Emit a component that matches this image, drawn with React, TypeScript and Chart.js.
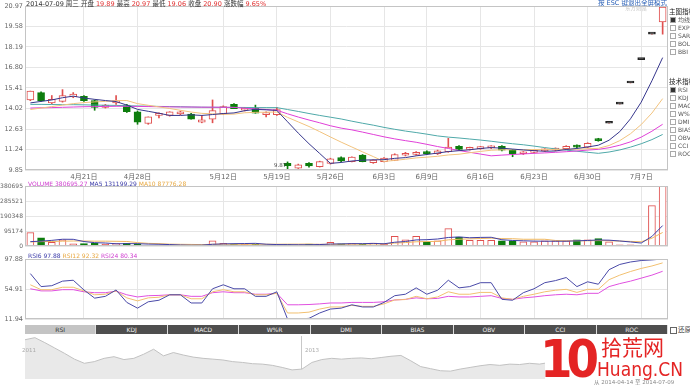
import React, { useEffect, useRef } from "react";
import { Chart, registerables } from "chart.js";
Chart.register(...registerables);

const dates = ["4月14日","4月15日","4月16日","4月17日","4月18日","4月21日","4月22日","4月23日","4月24日","4月25日","4月28日","4月29日","4月30日","5月5日","5月6日","5月7日","5月8日","5月9日","5月12日","5月13日","5月14日","5月15日","5月16日","5月19日","5月20日","5月21日","5月22日","5月23日","5月26日","5月27日","5月28日","5月29日","5月30日","6月3日","6月4日","6月5日","6月6日","6月9日","6月10日","6月11日","6月12日","6月13日","6月16日","6月17日","6月18日","6月19日","6月20日","6月23日","6月24日","6月25日","6月26日","6月27日","6月30日","7月1日","7月2日","7月3日","7月4日","7月7日","7月8日","7月9日"];
const axisLabels = ["4月21日","4月28日","5月12日","5月19日","5月26日","6月3日","6月9日","6月16日","6月23日","6月30日","7月7日"];

const opens = [14.6,15.1,14.4,14.5,14.8,14.85,14.55,14.1,14.4,14.25,13.8,13.0,13.55,13.55,13.65,13.65,13.1,13.3,13.65,14.3,13.9,14.05,13.6,13.6,10.3,9.98,10.3,10.07,10.3,10.7,10.42,10.87,10.35,10.42,10.5,10.85,10.9,11.1,10.95,11.1,11.45,11.25,11.3,11.35,11.45,11.2,10.95,11.05,11.15,11.2,11.3,11.5,11.4,11.95,13.02,14.32,15.75,17.33,19.06,19.89];
const highs = [15.2,15.15,14.9,15.3,15.1,14.9,14.6,14.3,14.9,14.3,13.85,13.45,13.72,13.8,13.85,13.7,13.55,14.6,14.2,14.35,14.1,14.25,13.8,14.1,10.4,10.25,10.35,10.45,10.65,10.75,10.75,10.9,10.55,10.7,10.95,11.05,11.1,11.15,11.2,12.0,11.5,11.4,11.45,11.5,11.5,11.25,11.1,11.2,11.3,11.35,11.5,11.55,11.7,12.0,13.02,14.32,15.75,17.33,19.06,20.97];
const lows = [14.55,14.5,14.35,14.45,14.75,14.5,13.9,14.05,14.3,13.75,12.95,12.95,13.38,13.5,13.6,13.3,13.05,13.05,13.6,14.0,13.85,13.7,13.45,13.55,9.87,9.95,10.05,10.05,10.25,10.4,10.4,10.4,10.3,10.4,10.48,10.8,10.85,10.9,10.9,11.05,11.2,11.2,11.25,11.3,11.15,10.75,10.9,11.0,11.1,11.15,11.25,11.35,11.35,11.8,13.02,14.32,15.75,17.33,19.06,19.06];
const closes = [15.2,14.55,14.65,14.9,15.0,14.55,14.1,14.25,14.55,13.8,13.1,13.45,13.62,13.8,13.8,13.3,13.25,13.88,14.15,14.0,14.05,13.7,13.75,13.95,10.15,10.2,10.12,10.42,10.6,10.46,10.72,10.42,10.52,10.65,10.9,10.95,11.05,10.95,11.15,11.4,11.25,11.35,11.4,11.45,11.2,10.95,11.05,11.15,11.25,11.3,11.45,11.4,11.65,11.84,13.02,14.32,15.75,17.33,19.06,20.9];

const ma5 = [14.4,14.5,14.6,14.75,14.86,14.73,14.64,14.56,14.49,14.25,13.96,13.83,13.7,13.55,13.55,13.59,13.55,13.61,13.68,13.72,13.87,13.96,13.93,13.89,13.12,12.35,11.63,10.97,10.3,10.36,10.46,10.52,10.54,10.55,10.64,10.69,10.81,10.9,11.0,11.1,11.16,11.22,11.31,11.37,11.33,11.27,11.21,11.16,11.12,11.14,11.24,11.31,11.41,11.53,11.87,12.45,13.32,14.45,15.9,17.47];
const ma10 = [13.95,14.05,14.15,14.25,14.35,14.42,14.47,14.5,14.55,14.56,14.35,14.24,14.13,14.02,13.9,13.78,13.69,13.66,13.62,13.64,13.73,13.76,13.77,13.78,13.42,13.11,12.8,12.45,12.09,11.74,11.41,11.08,10.76,10.43,10.5,10.58,10.67,10.72,10.78,10.87,10.92,11.02,11.11,11.19,11.22,11.22,11.22,11.24,11.25,11.24,11.26,11.26,11.29,11.32,11.51,11.84,12.31,12.93,13.71,14.69];
const ma20 = [14.05,14.07,14.08,14.1,14.12,14.14,14.15,14.16,14.17,14.17,14.16,14.15,14.14,14.13,14.12,14.12,14.11,14.11,14.1,14.1,14.04,14.0,13.95,13.9,13.66,13.44,13.24,13.05,12.85,12.69,12.57,12.42,12.26,12.1,11.96,11.84,11.73,11.59,11.44,11.31,11.17,11.05,10.93,10.81,10.86,10.9,10.94,10.98,11.01,11.05,11.09,11.14,11.2,11.25,11.36,11.53,11.76,12.08,12.48,12.95];
const ma30 = [14.3,14.3,14.29,14.28,14.28,14.27,14.25,14.24,14.23,14.21,14.19,14.18,14.16,14.15,14.14,14.12,14.11,14.1,14.1,14.09,14.09,14.08,14.08,14.08,13.95,13.82,13.68,13.55,13.43,13.31,13.16,13.02,12.89,12.74,12.61,12.49,12.39,12.28,12.16,12.08,12.02,11.95,11.88,11.8,11.71,11.63,11.56,11.47,11.37,11.28,11.2,11.12,11.05,10.98,11.07,11.21,11.4,11.63,11.91,12.26];
const priceTicks = [9.85,11.24,12.63,14.02,15.41,16.8,18.19,19.58,20.97];

const vols = [87000,54000,25000,41000,16000,17000,19000,14000,17000,20000,16000,6000,8000,8000,7000,9000,8000,35000,20000,14000,13000,14000,8000,9000,11000,10000,14000,14000,25000,16000,18000,14000,21000,14000,64000,41000,64000,29000,35000,112000,58000,39000,39000,39000,35000,35000,29000,29000,35000,35000,35000,41000,41000,50000,29000,10000,10000,7000,257000,380695.27];
const volMa5 = [30000,33000,38000,45000,44600,30600,23600,21400,16600,17400,17200,14600,13400,11600,9000,7600,8000,13400,15800,17200,18000,19200,13800,11600,11000,10400,10400,11600,14800,15800,17400,17400,18800,16600,26200,30800,40800,42400,46600,56200,59600,54600,56600,57400,42000,37400,35400,33400,32600,32600,32600,35000,37400,40400,39200,34200,28000,21200,62600,131199.29];
const volMa10 = [28000,30000,31000,33000,34000,34000,33000,33000,32000,31000,23900,19100,17400,14100,13200,12400,11300,13400,13700,13100,12800,13600,13600,13700,14100,14200,14800,12700,13200,13400,13900,13900,15200,15700,21000,24100,29100,30600,31600,41200,45200,47700,49500,52000,49100,48500,45000,45000,45000,37300,35000,35200,35400,36500,35900,33400,31500,29300,51500,87776.28];
const volTicks = [0,95174,190348,285521,380695];

const rsi6 = [77.0,58.4,59.7,66.2,67.5,53.6,41.9,44.5,53.6,35.8,27.6,36.7,38.9,46.7,46.7,35.0,35.0,55.3,61.0,55.3,55.3,44.5,44.5,51.0,11.94,12.0,13.0,20.7,26.3,27.6,32.4,29.3,29.3,35.8,45.4,47.5,56.6,47.5,53.2,67.5,56.6,58.4,64.0,64.0,40.2,38.9,49.7,55.3,64.0,67.0,71.4,58.4,65.3,61.8,82.6,90.1,93.6,95.7,96.6,97.88];
const rsi12 = [61.0,54.0,54.0,57.5,57.5,52.3,46.7,47.5,52.3,42.3,38.0,42.3,43.2,46.7,46.7,41.0,41.0,51.0,54.0,51.0,51.0,46.7,46.7,48.8,20.7,20.7,21.9,26.3,29.3,29.3,31.5,30.2,30.2,33.7,39.3,39.9,44.5,41.0,43.6,51.0,47.5,47.5,50.1,50.1,42.3,40.2,44.5,47.5,51.0,53.2,54.5,50.1,54.5,54.5,68.3,74.8,80.0,84.4,87.9,92.32];
const rsi24 = [55.3,52.3,52.3,54.0,54.0,51.0,49.7,49.7,51.9,46.7,43.6,45.4,45.8,46.7,46.7,44.5,44.5,49.7,51.0,49.7,49.7,47.5,47.5,48.8,32.4,32.4,32.8,33.7,35.0,35.0,35.8,35.8,35.8,36.7,39.3,40.2,42.3,41.0,41.5,44.5,43.6,43.6,44.5,45.4,41.5,40.2,42.3,43.6,45.4,46.7,47.5,46.7,48.8,48.8,58.4,62.7,66.2,70.5,74.8,80.34];
const rsiTicks = [11.94,54.91,97.88];

const navValues = [95,100,88,75,62,48,38,42,50,54,47,50,60,72,56,64,58,53,50,48,46,42,40,37,36,33,28,22,24,40,47,50,48,50,51,49,52,55,57,44,30,25,20,19,24,28,32,35,33,36,35,38,36,40,42,45,43,47,44,42,45,40,42,50,65,75];
const navYearAt = { 28: "2013" } as Record<number, string>;

const tabs = ["RSI","KDJ","MACD","W%R","DMI","BIAS","OBV","CCI","ROC"];
const mainOptions = ["均线","EXPMA","SAR","BOLL","BBI"];
const techOptions = ["RSI","KDJ","MACD","W%R","DMI","BIAS","OBV","CCI","ROC"];

const FONT = "'DejaVu Sans', 'Noto Sans CJK SC', sans-serif";
const RED = "#e0504f";
const GREEN = "#0d7d0d";
const TICK = "#666";
const GRID = "#e6e6e6";

const isUp = (i: number) => closes[i] > opens[i];
const isDown = (i: number) => closes[i] < opens[i];

const framePlugin = {
  id: "frame",
  afterDraw(chart: any) {
    const { ctx, chartArea: a } = chart;
    ctx.save();
    ctx.strokeStyle = "#c4c4c4";
    ctx.lineWidth = 1;
    ctx.strokeRect(Math.round(a.left) + 0.5, Math.round(a.top) + 0.5, Math.round(a.right - a.left) - 1, Math.round(a.bottom - a.top) - 1);
    ctx.restore();
  },
};

const vGrid = (ctx: any) => (axisLabels.includes(dates[ctx.index]) ? GRID : "rgba(0,0,0,0)");

function xScale(showLabels: boolean) {
  return {
    type: "category" as const,
    offset: true,
    grid: { offset: false, color: vGrid, drawTicks: false },
    border: { display: false },
    ticks: {
      display: showLabels,
      autoSkip: false,
      maxRotation: 0,
      padding: 3,
      color: TICK,
      font: { family: FONT, size: 7 },
      callback: (_v: any, i: number) => (axisLabels.includes(dates[i]) ? dates[i] : ""),
    },
    afterFit: (s: any) => {
      s.height = showLabels ? 12 : 0;
    },
  };
}

function yScale(min: number, max: number, tickVals: number[], fmt: (v: number) => string, size = 6.5) {
  return {
    min,
    max,
    afterBuildTicks: (s: any) => {
      s.ticks = tickVals.map((v) => ({ value: v }));
    },
    afterFit: (s: any) => {
      s.width = 25;
    },
    grid: { color: GRID, drawTicks: false },
    border: { display: false },
    ticks: { padding: 2, color: TICK, font: { family: FONT, size }, callback: (v: any) => fmt(Number(v)) },
  };
}

const baseOpts = {
  responsive: false,
  animation: false as const,
  devicePixelRatio: 1,
  events: [] as any[],
  plugins: { legend: { display: false }, tooltip: { enabled: false } },
};

const line = (data: number[], color: string, order = 0) => ({
  type: "line" as const,
  data,
  borderColor: color,
  borderWidth: 1,
  pointRadius: 0,
  tension: 0,
  fill: false,
  order,
});

export default function App() {
  const mainRef = useRef<HTMLCanvasElement>(null);
  const volRef = useRef<HTMLCanvasElement>(null);
  const rsiRef = useRef<HTMLCanvasElement>(null);
  const navRef = useRef<HTMLCanvasElement>(null);

  useEffect(() => {
    const charts: Chart[] = [];
    const bodyFill = dates.map((_, i) => (isUp(i) ? "#ffffff" : isDown(i) ? GREEN : "#222222"));
    const bodyLine = dates.map((_, i) => (isUp(i) ? RED : isDown(i) ? GREEN : "#222222"));
    const wickColor = dates.map((_, i) => (isDown(i) ? GREEN : RED));

    charts.push(
      new Chart(mainRef.current!, {
        type: "bar",
        data: {
          labels: dates,
          datasets: [
            line(ma5, "#36368c"),
            line(ma10, "#f2c37e"),
            line(ma20, "#e040d8"),
            line(ma30, "#4fa9a9"),
            {
              type: "bar",
              data: opens.map((o, i) => [o, closes[i]]) as any,
              backgroundColor: bodyFill,
              borderColor: bodyLine,
              borderWidth: 1,
              borderSkipped: false,
              barThickness: 7,
              minBarLength: 2,
              grouped: false,
              order: 1,
            } as any,
            {
              type: "bar",
              data: lows.map((l, i) => [l, highs[i]]) as any,
              backgroundColor: wickColor,
              borderWidth: 0,
              barThickness: 1,
              grouped: false,
              order: 2,
            } as any,
          ],
        },
        options: {
          ...baseOpts,
          layout: { padding: { top: 6, right: 2, left: 0, bottom: 0 } },
          scales: {
            x: xScale(true) as any,
            y: yScale(9.85, 20.97, priceTicks, (v) => v.toFixed(2)) as any,
          },
        } as any,
        plugins: [framePlugin],
      })
    );

    const volFill = dates.map((_, i) => (isDown(i) ? GREEN : "#ffffff"));
    const volLine = dates.map((_, i) => (isDown(i) ? GREEN : RED));
    charts.push(
      new Chart(volRef.current!, {
        type: "bar",
        data: {
          labels: dates,
          datasets: [
            line(volMa5, "#4040a8"),
            line(volMa10, "#f0b860"),
            {
              type: "bar",
              data: vols,
              backgroundColor: volFill,
              borderColor: volLine,
              borderWidth: 1,
              barThickness: 7,
              grouped: false,
              order: 1,
            } as any,
          ],
        },
        options: {
          ...baseOpts,
          layout: { padding: { top: 6, right: 2, left: 0, bottom: 1 } },
          scales: {
            x: xScale(false) as any,
            y: yScale(0, 380695.27, volTicks, (v) => String(Math.round(v)), 6) as any,
          },
        } as any,
        plugins: [framePlugin],
      })
    );

    charts.push(
      new Chart(rsiRef.current!, {
        type: "line",
        data: {
          labels: dates,
          datasets: [line(rsi6, "#4a4aa8"), line(rsi12, "#f2c070"), line(rsi24, "#e050e0")],
        },
        options: {
          ...baseOpts,
          layout: { padding: { top: 7, right: 2, left: 0, bottom: 0 } },
          scales: {
            x: xScale(false) as any,
            y: yScale(11.94, 97.88, rsiTicks, (v) => v.toFixed(2)) as any,
          },
        } as any,
        plugins: [framePlugin],
      })
    );

    charts.push(
      new Chart(navRef.current!, {
        type: "line",
        data: {
          labels: navValues.map((_, i) => navYearAt[i] || ""),
          datasets: [
            {
              data: navValues,
              borderColor: "#c2c2c2",
              borderWidth: 1,
              backgroundColor: "#e9e9e9",
              fill: "origin",
              pointRadius: 0,
              tension: 0,
            },
          ],
        },
        options: {
          ...baseOpts,
          layout: { padding: { top: 0, right: 2, left: 25, bottom: 0 } },
          scales: {
            x: {
              type: "category",
              offset: false,
              grid: { color: (c: any) => (navYearAt[c.index] ? "#c8c8c8" : "rgba(0,0,0,0)"), drawTicks: false },
              border: { display: false },
              ticks: { display: false, autoSkip: false },
              afterFit: (s: any) => {
                s.height = 0;
              },
            },
            y: { display: false, min: 0, max: 104 },
          },
        } as any,
      })
    );

    return () => charts.forEach((c) => c.destroy());
  }, []);

  const abs = (left: number, top: number, extra: React.CSSProperties = {}): React.CSSProperties => ({
    position: "absolute",
    left,
    top,
    whiteSpace: "nowrap",
    ...extra,
  });

  const tabW = 643 / tabs.length;

  return (
    <div
      style={{
        position: "absolute",
        left: 0,
        top: 0,
        width: 690,
        height: 387,
        overflow: "hidden",
        background: "#fff",
        fontFamily: FONT,
        fontSize: 6.5,
        lineHeight: 1,
        color: "#333",
      }}
    >
      <canvas ref={mainRef} width={670} height={182} style={abs(0, 0, { width: 670, height: 182 })} />
      <canvas ref={volRef} width={670} height={72} style={abs(0, 180, { width: 670, height: 72 })} />
      <canvas ref={rsiRef} width={670} height={73} style={abs(0, 252, { width: 670, height: 73 })} />
      <canvas ref={navRef} width={670} height={43} style={abs(0, 336, { width: 670, height: 43 })} />

      <div style={abs(26, 1, { fontSize: 6.5 })}>
        <span>2014-07-09 周三 开盘 </span>
        <span style={{ color: "#e03030" }}>19.89</span>
        <span> 最高 </span>
        <span style={{ color: "#e03030" }}>20.97</span>
        <span> 最低 </span>
        <span style={{ color: "#e03030" }}>19.06</span>
        <span> 收盘 </span>
        <span style={{ color: "#e03030" }}>20.90</span>
        <span> 涨跌幅 </span>
        <span style={{ color: "#e03030" }}>9.65%</span>
      </div>
      <div style={abs(598, 0, { color: "#2c62b8", fontSize: 6.5 })}>按 ESC 键退出全屏模式</div>
      <div style={abs(625, 6, { color: "#c8c8c8", fontSize: 5.5 })}>东方财富</div>

      <div style={abs(669, 9, { fontSize: 6.5, color: "#222" })}>主图指标</div>
      {mainOptions.map((t, i) => (
        <div key={t} style={abs(670, 17 + i * 8, { fontSize: 6, color: "#555", display: "flex", alignItems: "center" })}>
          <span style={{ display: "inline-block", width: 4, height: 4, border: "1px solid #aaa", background: i === 0 ? "#333" : "#fff", marginRight: 2 }} />
          {t}
        </div>
      ))}
      <div style={abs(669, 79, { fontSize: 6.5, color: "#222" })}>技术指标</div>
      {techOptions.map((t, i) => (
        <div key={t} style={abs(670, 87 + i * 8, { fontSize: 6, color: "#555", display: "flex", alignItems: "center" })}>
          <span style={{ display: "inline-block", width: 4, height: 4, border: "1px solid #aaa", background: i === 0 ? "#333" : "#fff", marginRight: 2 }} />
          {t}
        </div>
      ))}

      <div style={abs(274, 163, { fontSize: 5.5, color: "#444" })}>9.87</div>

      <div style={abs(28, 181, { fontSize: 6 })}>
        <span style={{ color: "#d040d0" }}>VOLUME 380695.27 </span>
        <span style={{ color: "#3a3aa8" }}>MA5 131199.29 </span>
        <span style={{ color: "#e8a840" }}>MA10 87776.28</span>
      </div>
      <div style={abs(28, 253, { fontSize: 6 })}>
        <span style={{ color: "#3a3aa8" }}>RSI6 97.88 </span>
        <span style={{ color: "#e8a840" }}>RSI12 92.32 </span>
        <span style={{ color: "#d040d0" }}>RSI24 80.34</span>
      </div>

      <div style={abs(25, 325, { width: 643, height: 9, display: "flex" })}>
        {tabs.map((t, i) => (
          <div
            key={t}
            style={{
              width: tabW,
              height: 9,
              background: i === 0 ? "#c4c4c4" : "#4e4e4e",
              color: i === 0 ? "#333" : "#f0f0f0",
              borderRight: "1px solid #ddd",
              boxSizing: "border-box",
              textAlign: "center",
              lineHeight: "9px",
              fontSize: 6,
            }}
          >
            {t}
          </div>
        ))}
      </div>
      <div style={abs(670, 327, { fontSize: 6.5, color: "#444", display: "flex", alignItems: "center" })}>
        <span style={{ display: "inline-block", width: 5, height: 5, border: "1px solid #666", marginRight: 1 }} />
        还原
      </div>

      <div style={abs(22, 348, { fontSize: 5.5, color: "#aaa" })}>2011</div>
      <div style={abs(305, 348, { fontSize: 5.5, color: "#aaa" })}>2013</div>

      <div style={abs(545, 336, { width: 145, height: 51, background: "#fff" })} />
      <div style={abs(540, 333, { fontSize: 52, fontWeight: 700, color: "#e42424", fontFamily: "'DejaVu Sans Condensed','DejaVu Sans',sans-serif", letterSpacing: -6 })}>10</div>
      <div style={abs(601, 336, { fontSize: 21, color: "#e42424", fontFamily: "'Noto Sans CJK SC',sans-serif" })}>拾荒网</div>
      <div style={abs(597, 360, { fontSize: 19, color: "#e42424", fontFamily: "'DejaVu Sans Condensed','Liberation Sans',sans-serif" })}>Huang.CN</div>
      <div style={abs(594, 380, { fontSize: 5.5, color: "#888" })}>从 2014-04-14 至 2014-07-09</div>
    </div>
  );
}
